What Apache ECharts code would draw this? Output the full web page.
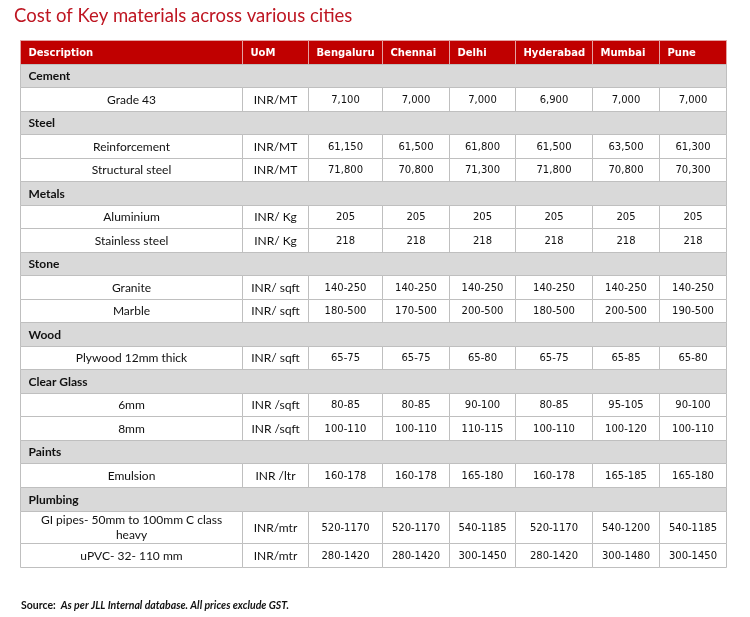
<!DOCTYPE html>
<html>
<head>
<meta charset="utf-8">
<script src="https://cdn.jsdelivr.net/npm/echarts@6/dist/echarts.min.js"></script>
<style>html,body{margin:0;padding:0;background:#fff}#main{width:750px;height:617px}</style>
</head>
<body>
<div id="main"></div>
<script>
// ---------- data ----------
const headers = ['Description', 'UoM', 'Bengaluru', 'Chennai', 'Delhi', 'Hyderabad', 'Mumbai', 'Pune'];
const groups = ['Cement', 'Steel', 'Metals', 'Stone', 'Wood', 'Clear Glass', 'Paints', 'Plumbing'];
const itemGroup = [0, 1, 1, 2, 2, 3, 3, 4, 5, 5, 6, 7, 7];
const itemNames = ['Grade 43', 'Reinforcement', 'Structural steel', 'Aluminium', 'Stainless steel',
  'Granite', 'Marble', 'Plywood 12mm thick', '6mm', '8mm', 'Emulsion',
  'GI pipes- 50mm to 100mm C class\nheavy', 'uPVC- 32- 110 mm'];
const itemUoM = ['INR/MT', 'INR/MT', 'INR/MT', 'INR/ Kg', 'INR/ Kg', 'INR/ sqft', 'INR/ sqft', 'INR/ sqft',
  'INR /sqft', 'INR /sqft', 'INR /ltr', 'INR/mtr', 'INR/mtr'];
const bengaluru = ['7,100', '61,150', '71,800', '205', '218', '140-250', '180-500', '65-75', '80-85', '100-110', '160-178', '520-1170', '280-1420'];
const chennai   = ['7,000', '61,500', '70,800', '205', '218', '140-250', '170-500', '65-75', '80-85', '100-110', '160-178', '520-1170', '280-1420'];
const delhi     = ['7,000', '61,800', '71,300', '205', '218', '140-250', '200-500', '65-80', '90-100', '110-115', '165-180', '540-1185', '300-1450'];
const hyderabad = ['6,900', '61,500', '71,800', '205', '218', '140-250', '180-500', '65-75', '80-85', '100-110', '160-178', '520-1170', '280-1420'];
const mumbai    = ['7,000', '63,500', '70,800', '205', '218', '140-250', '200-500', '65-85', '95-105', '100-120', '165-185', '540-1200', '300-1480'];
const pune      = ['7,000', '61,300', '70,300', '205', '218', '140-250', '190-500', '65-80', '90-100', '100-110', '165-180', '540-1185', '300-1450'];
const cityValues = [bengaluru, chennai, delhi, hyderabad, mumbai, pune];

// ---------- layout (sizes, not data) ----------
const colWidths = [222, 66, 74, 67, 66, 77, 67, 67];
const extraLineUnits = 0.4;
const colEdges = [0];
colWidths.forEach(w => colEdges.push(colEdges[colEdges.length - 1] + w));
const totalWidth = colEdges[colEdges.length - 1];

// ---------- build cells ----------
const cells = [];   // value: [x0, x1, y0, y1]
const meta = [];
let y = 0;
function addCell(x0, x1, y0, y1, text, kind) {
  cells.push([x0, x1, y0, y1]);
  meta.push({ text: text, kind: kind });
}
headers.forEach((h, c) => addCell(colEdges[c], colEdges[c + 1], y, y + 1, h, 'header'));
y += 1;
groups.forEach((g, gi) => {
  addCell(0, totalWidth, y, y + 1, g, 'group');
  y += 1;
  itemGroup.forEach((ig, i) => {
    if (ig !== gi) return;
    const lines = itemNames[i].split('\n').length;
    const h = 1 + extraLineUnits * (lines - 1);
    addCell(colEdges[0], colEdges[1], y, y + h, itemNames[i], 'desc');
    addCell(colEdges[1], colEdges[2], y, y + h, itemUoM[i], 'uom');
    cityValues.forEach((arr, c) => addCell(colEdges[c + 2], colEdges[c + 3], y, y + h, arr[i], 'num'));
    y += h;
  });
});
const totalHeight = y;

const styles = {
  header: { fill: '#C00000', stroke: '#E3A3A3', font: 'bold 10px "DejaVu Sans"', color: '#FFFFFF', align: 'left' },
  group:  { fill: '#D9D9D9', stroke: '#BFBFBF', font: 'bold 12px Lato', color: '#111111', align: 'left' },
  desc:   { fill: '#FFFFFF', stroke: '#BFBFBF', font: '12px Lato', color: '#111111', align: 'center' },
  uom:    { fill: '#FFFFFF', stroke: '#BFBFBF', font: '12px Lato', color: '#111111', align: 'center' },
  num:    { fill: '#FFFFFF', stroke: '#BFBFBF', font: '10px "DejaVu Sans"', color: '#111111', align: 'center' }
};

function renderItem(params, api) {
  const m = meta[params.dataIndex];
  const st = styles[m.kind];
  const p0 = api.coord([api.value(0), api.value(2)]);
  const p1 = api.coord([api.value(1), api.value(3)]);
  const x0 = Math.round(p0[0]) + 0.5, y0 = Math.round(p0[1]) + 0.5;
  const x1 = Math.round(p1[0]) + 0.5, y1 = Math.round(p1[1]) + 0.5;
  const tx = st.align === 'left' ? x0 + 8 : (x0 + x1) / 2;
  return {
    type: 'group',
    children: [
      { type: 'rect', shape: { x: x0, y: y0, width: x1 - x0, height: y1 - y0 },
        style: { fill: st.fill, stroke: st.stroke, lineWidth: 1 } },
      { type: 'text', z2: 10,
        style: { text: m.text, x: tx, y: (y0 + y1) / 2 + 0.5, align: st.align, verticalAlign: 'middle',
          font: st.font, fill: st.color, lineHeight: 15 } }
    ]
  };
}

const chart = echarts.init(document.getElementById('main'), null, { renderer: 'canvas' });
chart.setOption({
  animation: false,
  backgroundColor: '#FFFFFF',
  title: [
    { text: 'Cost of Key materials across various cities', left: 9, top: 2,
      textStyle: { fontFamily: 'Lato', fontSize: 18.5, fontWeight: 'normal', color: '#BE1622' } },
    { text: '{b|Source:} {i|As per JLL Internal database. All prices exclude GST.}', left: 16, top: 592,
      textStyle: { rich: {
        b: { fontFamily: 'Lato', fontSize: 10.5, fontWeight: 'bold', color: '#111' },
        i: { fontFamily: 'Lato', fontSize: 10.5, fontStyle: 'italic', color: '#111' } } } }
  ],
  grid: { left: 20, right: 24, top: 40, bottom: 50 },
  xAxis: { type: 'value', min: 0, max: totalWidth, show: false },
  yAxis: { type: 'value', min: 0, max: totalHeight, inverse: true, show: false },
  series: [{ type: 'custom', renderItem: renderItem, data: cells, clip: false }]
});
</script>
</body>
</html>
